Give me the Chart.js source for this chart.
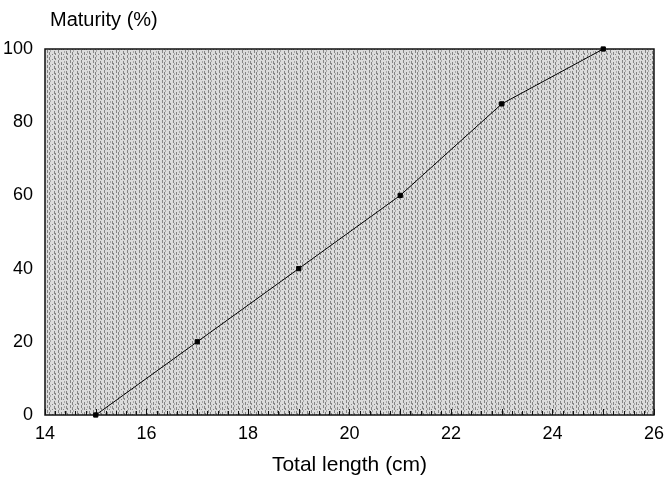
<!DOCTYPE html>
<html>
<head>
<meta charset="utf-8">
<script src="https://cdn.jsdelivr.net/npm/chart.js@4/dist/chart.umd.min.js"></script>
<style>
  body { margin: 0; background: #fff; }
  #wrap { width: 664px; height: 480px; }
</style>
</head>
<body>
<div id="wrap"><canvas id="graph1" width="664" height="480"></canvas></div>
<script>
// data
let lengths = [15, 17, 19, 21, 23, 25];
let maturity = [0, 20, 40, 60, 85, 100];
let xTicks = [14, 16, 18, 20, 22, 24, 26];
let yTicks = [0, 20, 40, 60, 80, 100];

let points = [];
for (let i = 0; i < lengths.length; i++) {
    points.push({x: lengths[i], y: maturity[i]});
}

// grey screen texture of the scanned plot area
function makePattern() {
    let c = document.createElement("canvas");
    c.width = 23; c.height = 5;
    let g = c.getContext("2d");
    g.fillStyle = "#dcdcdc";
    g.fillRect(0, 0, 23, 5);
    let dark = [1, 3, 6, 8, 9, 12, 15, 17, 20, 21];
    g.fillStyle = "#858585";
    for (let k = 0; k < dark.length; k++) {
        g.fillRect(dark[k], (k * 2) % 5, 1, 3);
    }
    g.fillStyle = "#a8a8a8";
    g.fillRect(4, 0, 1, 2);
    g.fillRect(13, 3, 1, 2);
    g.fillRect(18, 1, 1, 2);
    return g.createPattern(c, "repeat");
}

let plotDeco = {
    id: "plotDeco",
    beforeDraw(chart) {
        let a = chart.chartArea, ctx = chart.ctx;
        ctx.save();
        ctx.fillStyle = makePattern();
        ctx.fillRect(a.left, a.top, a.right - a.left, a.bottom - a.top);
        ctx.restore();
    },
    beforeDatasetsDraw(chart) {
        let a = chart.chartArea, ctx = chart.ctx;
        let xs = chart.scales.x;
        ctx.save();
        ctx.strokeStyle = "#111";
        ctx.lineWidth = 1.5;
        ctx.strokeRect(a.left, a.top, a.right - a.left, a.bottom - a.top);
        // small inward ticks on the length axis
        ctx.lineWidth = 1;
        for (let v = 14; v <= 26.001; v += 0.2) {
            let px = Math.round(xs.getPixelForValue(v)) + 0.5;
            let len = Math.abs(v - Math.round(v)) < 0.01 ? 6 : 4;
            ctx.beginPath();
            ctx.moveTo(px, a.bottom);
            ctx.lineTo(px, a.bottom - len);
            ctx.stroke();
        }
        ctx.restore();
    },
    afterDraw(chart) {
        let ctx = chart.ctx;
        // y title sits above the axis
        ctx.save();
        ctx.fillStyle = "#000";
        ctx.font = "20px 'Liberation Sans', Arial, sans-serif";
        ctx.textBaseline = "middle";
        ctx.textAlign = "left";
        ctx.fillText("Maturity (%)", 50, 20);
        ctx.restore();
    }
};

let ctx = document.getElementById("graph1").getContext("2d");
let chart = new Chart(ctx, {
    type: "scatter",
    data: {
        datasets: [{
            data: points,
            showLine: true,
            clip: false,
            borderColor: "#000",
            borderWidth: 1,
            backgroundColor: "#000",
            pointStyle: "rect",
            pointRadius: 3,
            pointHoverRadius: 3
        }]
    },
    options: {
        responsive: false,
        animation: false,
        layout: {padding: {top: 49, right: 0, bottom: 2, left: 0}},
        plugins: {legend: {display: false}, tooltip: {enabled: false}},
        scales: {
            x: {
                type: "linear",
                min: 14, max: 26,
                afterBuildTicks: (s) => { s.ticks = xTicks.map(v => ({value: v})); },
                afterFit: (s) => { s.height = 63; },
                grid: {display: false},
                border: {display: false},
                ticks: {
                    color: "#000",
                    padding: 0,
                    font: {family: "'Liberation Sans', Arial, sans-serif", size: 18}
                },
                title: {
                    display: true,
                    text: "Total length (cm)",
                    color: "#000",
                    padding: {top: 4, bottom: 0},
                    font: {family: "'Liberation Sans', Arial, sans-serif", size: 21}
                }
            },
            y: {
                type: "linear",
                min: 0, max: 100,
                afterBuildTicks: (s) => { s.ticks = yTicks.map(v => ({value: v})); },
                afterFit: (s) => { s.width = 45; },
                grid: {display: false},
                border: {display: false},
                ticks: {
                    color: "#000",
                    padding: 4,
                    font: {family: "'Liberation Sans', Arial, sans-serif", size: 18}
                }
            }
        }
    },
    plugins: [plotDeco]
});
</script>
</body>
</html>
